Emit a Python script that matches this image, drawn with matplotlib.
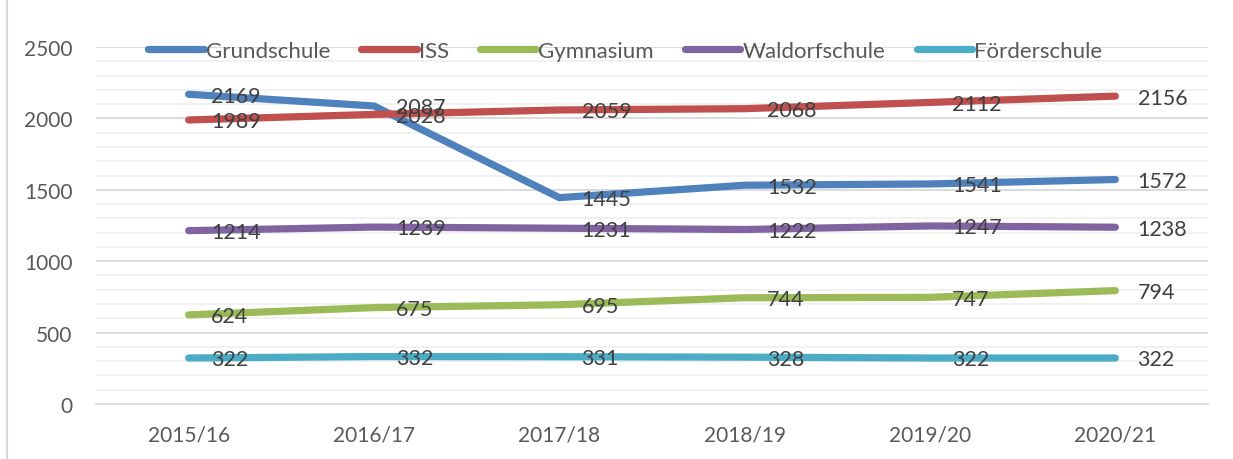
import matplotlib.pyplot as plt
from matplotlib.ticker import MultipleLocator

# --- Daten ---
jahre = ["2015/16", "2016/17", "2017/18", "2018/19", "2019/20", "2020/21"]
grundschule = [2169, 2087, 1445, 1532, 1541, 1572]
iss = [1989, 2028, 2059, 2068, 2112, 2156]
gymnasium = [624, 675, 695, 744, 747, 794]
waldorfschule = [1214, 1239, 1231, 1222, 1247, 1238]
foerderschule = [322, 332, 331, 328, 322, 322]

serien = [
    ("Grundschule", grundschule, "#4F81BD"),
    ("ISS", iss, "#C0504D"),
    ("Gymnasium", gymnasium, "#9BBB59"),
    ("Waldorfschule", waldorfschule, "#8064A2"),
    ("Förderschule", foerderschule, "#4BACC6"),
]

plt.rcParams['font.family'] = ['Lato', 'DejaVu Sans']

fig = plt.figure(figsize=(12.33, 4.6), dpi=100)
ax = fig.add_axes([96 / 1233, 55 / 460, 1112 / 1233, 357 / 460])

x = list(range(len(jahre)))
for name, werte, farbe in serien:
    ax.plot(x, werte, color=farbe, lw=5.2, solid_capstyle='round',
            solid_joinstyle='round', label=name, zorder=3)

# Datenbeschriftungen rechts neben den Punkten
for name, werte, farbe in serien:
    for xi, v in zip(x, werte):
        ax.annotate(str(v), (xi, v), xytext=(16, -1), textcoords='offset points',
                    ha='left', va='center', fontsize=15.5, color='#404040', zorder=5)

ax.set_xlim(-0.5, len(jahre) - 0.5)
ax.set_ylim(0, 2500)
ax.set_xticks(x)
ax.set_xticklabels(jahre)
ax.yaxis.set_major_locator(MultipleLocator(500))
ax.yaxis.set_minor_locator(MultipleLocator(100))

ax.grid(True, which='major', axis='y', color='#D9D9D9', lw=1.3, zorder=0)
ax.grid(True, which='minor', axis='y', color='#F0F0F0', lw=1.3, zorder=0)
ax.set_axisbelow(True)

for s in ['top', 'right', 'left']:
    ax.spines[s].set_visible(False)
ax.spines['bottom'].set_color('#D9D9D9')
ax.spines['bottom'].set_linewidth(1.3)

ax.tick_params(axis='both', which='both', length=0, labelsize=15, labelcolor='#595959')
ax.tick_params(axis='y', pad=17)
ax.tick_params(axis='x', pad=15)

leg = ax.legend(loc='center', bbox_to_anchor=(0.476, 0.99), ncol=5, frameon=False,
                fontsize=16, handlelength=2.5, handletextpad=0.1, columnspacing=1.4,
                labelcolor='#595959')

# linker Rahmen des Diagrammbereichs
fig.add_artist(plt.Line2D([7 / 1233, 7 / 1233], [0, 1], color='#D9D9D9', lw=1.5))

plt.savefig("out.png", dpi=100)
